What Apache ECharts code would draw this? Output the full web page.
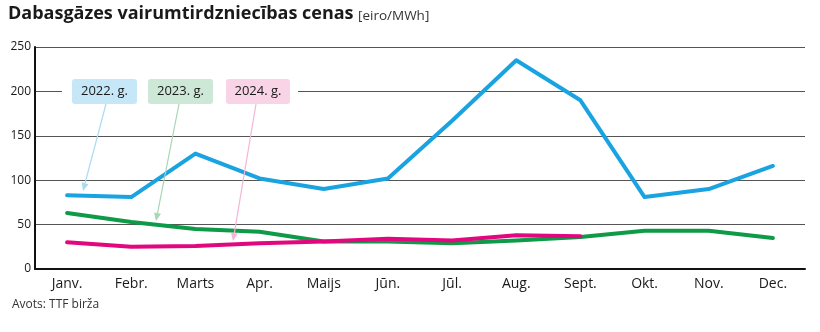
<!DOCTYPE html>
<html>
<head>
<meta charset="utf-8">
<script src="https://cdn.jsdelivr.net/npm/echarts@6/dist/echarts.min.js"></script>
<style>
html,body{margin:0;padding:0;background:#fff;}
#c{width:820px;height:332px;}
</style>
</head>
<body>
<div id="c"></div>
<script>
var months = ['Janv.','Febr.','Marts','Apr.','Maijs','Jūn.','Jūl.','Aug.','Sept.','Okt.','Nov.','Dec.'];
var y2022 = [83, 81, 130, 102, 90, 102, 167, 235, 190, 81, 90, 116];
var y2023 = [63, 53, 45, 42, 31, 31, 29, 32, 36, 43, 43, 35];
var y2024 = [30, 25, 26, 29, 31, 34, 32, 38, 37];
var yTicks = [0, 50, 100, 150, 200, 250];
var seriesNames = ['2022. g.', '2023. g.', '2024. g.'];

var FONT = '"Open Sans", "Noto Sans", sans-serif';
var chart = echarts.init(document.getElementById('c'), null, {renderer: 'canvas'});

function lineSeries(name, data, color) {
  return {
    name: name, type: 'line', data: data, symbol: 'none', smooth: false,
    lineStyle: {color: color, width: 4, join: 'round', cap: 'round'},
    z: 3
  };
}

var option = {
  animation: false,
  backgroundColor: '#fff',
  grid: {left: 35, right: 15, top: 47, bottom: 63},
  xAxis: {
    type: 'category', data: months, boundaryGap: true,
    axisLine: {lineStyle: {color: '#111', width: 2}},
    axisTick: {inside: true, length: 5, lineStyle: {color: '#111', width: 1.5}, alignWithLabel: false},
    axisLabel: {color: '#1a1a1a', fontFamily: FONT, fontSize: 14, margin: 8}
  },
  yAxis: {
    type: 'value', min: yTicks[0], max: yTicks[yTicks.length - 1], interval: 50,
    axisLine: {show: true, lineStyle: {color: '#111', width: 2}},
    axisTick: {show: false},
    axisLabel: {color: '#1a1a1a', fontFamily: FONT, fontSize: 12, margin: 4},
    splitLine: {lineStyle: {color: '#555', width: 1}}
  },
  series: [
    lineSeries(seriesNames[1], y2023, '#0e9a47'),
    lineSeries(seriesNames[2], y2024, '#e2077e'),
    lineSeries(seriesNames[0], y2022, '#1aa3e1')
  ],
  graphic: [
    {type: 'text', left: 8, top: 5, z: 10, style: {text: 'Dabasgāzes vairumtirdzniecības cenas', font: 'bold 18px ' + FONT, fill: '#1a1a1a'}},
    {type: 'text', left: 358, top: 9, z: 10, style: {text: '[eiro/MWh]', font: '13.5px ' + FONT, fill: '#333'}},
    {type: 'text', left: 12, top: 299, z: 10, style: {text: 'Avots: TTF birža', font: '12px ' + FONT, fill: '#333'}},
    {type: 'rect', z: 1, shape: {x: 62, y: 88, width: 236, height: 8}, style: {fill: '#fff'}},
    {type: 'rect', z: 10, shape: {x: 72, y: 79, width: 65, height: 25, r: 3}, style: {fill: '#c6e7f8'}},
    {type: 'rect', z: 10, shape: {x: 148, y: 79, width: 65, height: 25, r: 3}, style: {fill: '#cde8d6'}},
    {type: 'rect', z: 10, shape: {x: 226, y: 79, width: 64, height: 25, r: 3}, style: {fill: '#f8d4e6'}},
    {type: 'text', z: 11, x: 104.5, y: 91.5, style: {text: seriesNames[0], font: '13px ' + FONT, fill: '#1a1a1a', textAlign: 'center', textVerticalAlign: 'middle'}},
    {type: 'text', z: 11, x: 180.5, y: 91.5, style: {text: seriesNames[1], font: '13px ' + FONT, fill: '#1a1a1a', textAlign: 'center', textVerticalAlign: 'middle'}},
    {type: 'text', z: 11, x: 258, y: 91.5, style: {text: seriesNames[2], font: '13px ' + FONT, fill: '#1a1a1a', textAlign: 'center', textVerticalAlign: 'middle'}}
  ]
};

function arrow(x1, y1, x2, y2, color) {
  var ang = Math.atan2(y2 - y1, x2 - x1);
  var L = 8, W = 3.5;
  var bx = x2 - L * Math.cos(ang), by = y2 - L * Math.sin(ang);
  var px = -Math.sin(ang) * W, py = Math.cos(ang) * W;
  return [
    {type: 'line', z: 9, shape: {x1: x1, y1: y1, x2: bx, y2: by}, style: {stroke: color, lineWidth: 1.2}},
    {type: 'polygon', z: 9, shape: {points: [[x2, y2], [bx + px, by + py], [bx - px, by - py]]}, style: {fill: color}}
  ];
}
option.graphic = option.graphic
  .concat(arrow(106, 104, 83, 191, '#a9dcf3'))
  .concat(arrow(179, 104, 156, 221, '#a8d6b6'))
  .concat(arrow(256, 104, 233, 241, '#f3b6d4'));

chart.setOption(option);
</script>
</body>
</html>
